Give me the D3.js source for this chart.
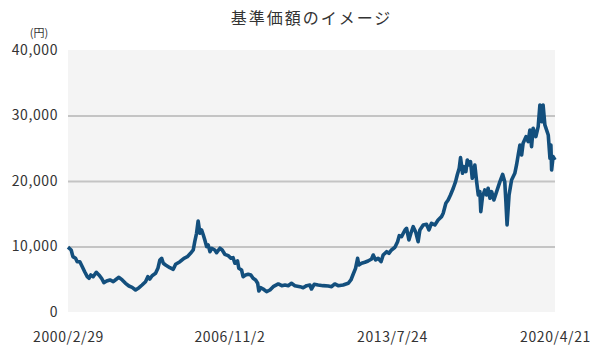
<!DOCTYPE html>
<html lang="ja">
<head>
<meta charset="UTF-8">
<script src="https://d3js.org/d3.v7.min.js"></script>
<title>基準価額のイメージ</title>
<style>
  body { margin: 0; background: #fff; }
  svg text { fill: #333; font-family: "Noto Sans CJK JP", "Noto Sans", sans-serif; }
</style>
</head>
<body>
<svg id="chart" width="599" height="354"></svg>
<script>
const dates = [
  "2000-02-29","2000-04-17","2000-05-13","2000-06-22","2000-07-17","2000-08-26","2000-10-02","2000-11-07","2000-12-16",
  "2001-01-11","2001-02-07","2001-03-15","2001-05-01","2001-06-10","2001-07-20","2001-08-24","2001-10-05","2001-11-24",
  "2002-01-13","2002-03-04","2002-04-08","2002-05-28","2002-07-17","2002-09-07","2002-10-25","2002-12-16",
  "2003-02-06","2003-03-24","2003-05-15","2003-06-19","2003-07-19","2003-08-23","2003-10-14","2003-11-18","2003-12-18",
  "2004-01-14","2004-02-08","2004-03-13","2004-05-17","2004-07-07","2004-08-12","2004-10-16","2004-12-16",
  "2005-02-05","2005-03-25","2005-05-05","2005-05-28","2005-06-24","2005-07-18","2005-08-14","2005-09-09","2005-10-04","2005-10-27","2005-11-23","2005-12-17",
  "2006-01-13","2006-02-08","2006-03-26","2006-04-23","2006-06-12","2006-07-16","2006-08-25","2006-10-15","2006-11-25","2006-12-28",
  "2007-01-24","2007-03-05","2007-03-24","2007-05-05","2007-05-28","2007-07-05","2007-08-13","2007-09-22","2007-10-26","2007-12-03",
  "2008-01-03","2008-01-21","2008-02-21","2008-03-26","2008-05-17","2008-07-07","2008-08-25","2008-11-10",
  "2009-01-01","2009-02-19","2009-04-09","2009-05-28","2009-07-18","2009-10-03","2009-11-21",
  "2010-01-12","2010-03-02","2010-03-26","2010-05-06","2010-07-05","2010-09-19","2010-12-05",
  "2011-01-24","2011-03-13","2011-05-03","2011-07-17","2011-10-02","2011-11-12","2011-12-16",
  "2012-01-21","2012-02-21","2012-03-11","2012-04-21","2012-06-10","2012-07-28","2012-09-19","2012-10-14","2012-11-19","2012-12-27",
  "2013-02-09","2013-03-13","2013-05-04","2013-06-08","2013-07-17","2013-09-07","2013-10-17","2013-11-11","2013-12-16",
  "2014-02-06","2014-03-02","2014-04-06","2014-05-06","2014-06-10","2014-07-19","2014-08-23","2014-09-19","2014-11-08","2014-12-28",
  "2015-02-03","2015-03-13","2015-05-03","2015-06-21","2015-08-12","2015-09-06","2015-10-16","2015-11-20","2015-12-25",
  "2016-02-05","2016-03-11","2016-04-05","2016-05-05","2016-05-25","2016-06-24","2016-07-18","2016-08-14","2016-09-04","2016-10-04","2016-10-23","2016-11-18","2016-12-13","2016-12-27",
  "2017-01-23","2017-02-17","2017-03-13","2017-03-27","2017-04-22","2017-05-26","2017-06-22","2017-07-16","2017-08-12","2017-09-07","2017-10-11","2017-11-21",
  "2018-01-10","2018-02-20","2018-03-24","2018-04-10","2018-04-28","2018-05-28","2018-07-05","2018-08-23","2018-09-18","2018-10-13","2018-11-08","2018-12-04","2018-12-26",
  "2019-02-08","2019-03-12","2019-04-08","2019-05-03","2019-05-27","2019-07-07","2019-08-11","2019-09-06","2019-10-02","2019-10-24","2019-11-20",
  "2020-01-10","2020-02-05","2020-02-19","2020-03-01","2020-03-23","2020-04-21"
];
const navValues = [
  9900,9470,8450,8200,7680,7680,6920,6150,5390,
  5150,5650,5390,6060,5650,5150,4480,4730,4890,
  4630,5040,5300,4890,4380,3970,3770,3360,
  3710,4120,4630,5390,5040,5540,5910,6670,7940,
  8200,7440,7180,6770,6520,7290,7680,8200,
  8450,8960,9470,10740,12020,13900,12020,12520,11760,11000,9980,10230,
  9210,9730,9470,9060,9730,9470,8810,8600,8200,8290,
  7440,7790,6670,6410,5390,5650,5760,5650,5150,4890,
  4380,3210,3710,3510,3100,3360,3870,4280,
  4020,4120,4020,4380,4020,3870,3710,
  4020,4120,3510,4230,4120,4020,3970,
  3870,4280,4020,4120,4380,4890,5760,
  6670,8200,7180,7440,7590,7790,8100,8700,7940,8200,
  7680,8700,9210,8960,9470,9880,10740,11650,11500,
  12520,12780,11000,12020,13030,12170,10740,12520,13290,13390,
  12520,13550,13290,14050,14560,15070,16600,17100,17870,
  18890,19900,20920,21940,23570,21180,22190,21430,23210,22450,22950,20410,21680,22450,
  19900,17870,18370,15320,17610,18630,17870,18890,17360,18370,17100,18370,
  19900,21020,19900,16850,13290,17870,20160,21180,22450,23980,25500,23980,25760,
  26770,26010,27790,25240,28050,26770,28300,31610,29060,31610,28560,
  27030,23470,25500,21680,23720,23210
];
const yTicks = [0, 10000, 20000, 30000, 40000];
const gridTicks = [10000, 20000, 30000];
const xTickDates = ["2000-02-29", "2006-11-02", "2013-07-24", "2020-04-21"];
const xTickLabels = ["2000/2/29", "2006/11/2", "2013/7/24", "2020/4/21"];

const parseDate = d3.timeParse("%Y-%m-%d");
const series = dates.map((d, i) => ({ date: parseDate(d), value: navValues[i] }));

const svg = d3.select("#chart");
const margin = { top: 50, right: 44, bottom: 42, left: 68 };
const width = 599 - margin.left - margin.right;
const height = 354 - margin.top - margin.bottom;

const x = d3.scaleTime()
  .domain([parseDate(xTickDates[0]), parseDate(xTickDates[xTickDates.length - 1])])
  .range([0, width]);
const y = d3.scaleLinear().domain([0, 40000]).range([height, 0]);

const g = svg.append("g").attr("transform", `translate(${margin.left},${margin.top})`);

// plot background
g.append("rect")
  .attr("width", width)
  .attr("height", height)
  .attr("fill", "#f4f4f4");

// grid lines
g.append("g")
  .call(d3.axisLeft(y).tickValues(gridTicks).tickSize(-width).tickFormat(""))
  .call(s => s.select(".domain").remove())
  .call(s => s.selectAll("line").attr("stroke", "#c4c4c4").attr("stroke-width", 2));

// y labels
g.append("g")
  .call(d3.axisLeft(y).tickValues(yTicks).tickSize(0).tickPadding(10).tickFormat(d3.format(",")))
  .call(s => s.select(".domain").remove())
  .call(s => s.selectAll("text").attr("font-size", 14).attr("letter-spacing", 0.6));

// x labels
g.append("g")
  .attr("transform", `translate(0,${height})`)
  .call(d3.axisBottom(x).tickValues(xTickDates.map(parseDate)).tickSize(0).tickPadding(20)
    .tickFormat((d, i) => xTickLabels[i]))
  .call(s => s.select(".domain").remove())
  .call(s => s.selectAll("text").attr("font-size", 14).attr("letter-spacing", 0.6));

// line
const line = d3.line()
  .x(d => x(d.date))
  .y(d => y(d.value));

g.append("path")
  .datum(series)
  .attr("d", line)
  .attr("fill", "none")
  .attr("stroke", "#134f7d")
  .attr("stroke-width", 3.6)
  .attr("stroke-linejoin", "round");

// title and unit
svg.append("text")
  .attr("x", margin.left + width / 2)
  .attr("y", 24)
  .attr("text-anchor", "middle")
  .attr("font-size", 16)
  .attr("letter-spacing", 2)
  .text("基準価額のイメージ");

svg.append("text")
  .attr("x", 39)
  .attr("y", 37)
  .attr("text-anchor", "middle")
  .attr("font-size", 11)
  .text("(円)");
</script>
</body>
</html>
